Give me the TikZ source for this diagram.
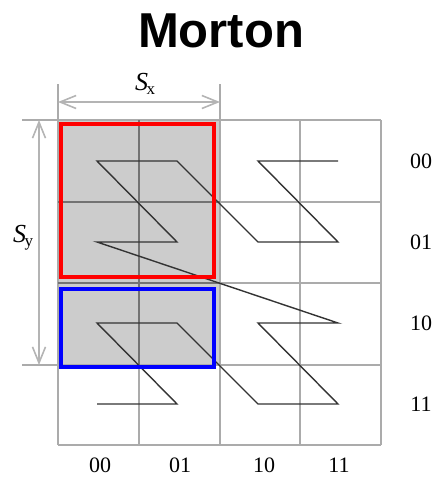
\documentclass[tikz,border=0pt]{standalone}
\usepackage{fontspec}
\setmainfont{Liberation Serif}
\newfontfamily\titlefont{Liberation Sans}
\usetikzlibrary{arrows.meta}
\definecolor{gridc}{HTML}{ABABAB}
\definecolor{dimc}{HTML}{B4B4B4}
\definecolor{shadec}{HTML}{CCCCCC}
\definecolor{curvec}{HTML}{333333}
\definecolor{redbox}{HTML}{FF0000}
\definecolor{bluebox}{HTML}{0000FF}
\begin{document}
\begin{tikzpicture}[x=1pt,y=-1pt,
  gridline/.style={draw=gridc,line width=1.3pt},
  innerline/.style={draw=black!55,line width=1.1pt},
  dimline/.style={draw=dimc,line width=1.6pt,{Straight Barb[length=16pt,width=13pt]}-{Straight Barb[length=16pt,width=13pt]}},
  curve/.style={draw=curvec,line width=1.4pt,line join=miter},
  lab/.style={font=\fontsize{22}{22}\selectfont,inner sep=0pt},
  dimlab/.style={font=\fontsize{26}{26}\selectfont,inner sep=0pt},
  sel/.style={line width=4pt}]
\useasboundingbox (0,0) rectangle (434,477);
% shading
\fill[shadec] (58,120) rectangle (220,365);
% grid
\foreach \x in {58,139,220,300,381} \draw[gridline] (\x,120) -- (\x,445);
\foreach \y in {120,202,283,365,445} \draw[gridline] (58,\y) -- (381,\y);
\draw[innerline] (139,120) -- (139,365);
\draw[innerline] (58,202) -- (220,202);
\draw[innerline] (58,283) -- (220,283);
% extensions
\draw[gridline] (58,120) -- (58,84);
\draw[gridline] (220,120) -- (220,84);
\draw[gridline] (58,120) -- (22,120);
\draw[gridline] (58,365) -- (22,365);
% dimension arrows
\coordinate (sxa) at (58,102);
\coordinate (sxb) at (220,102);
\coordinate (sya) at (39,120);
\coordinate (syb) at (39,365);
\draw[dimline] (sxa) -- (sxb);
\draw[dimline] (sya) -- (syb);
\node[dimlab] (sx) at (145,84) {\textit{S}\kern-1.5pt\raisebox{-0.3ex}{\fontsize{17}{17}\selectfont x}};
\node[dimlab] (sy) at (23,238) {\textit{S}\kern-1.5pt\raisebox{-0.3ex}{\fontsize{17}{17}\selectfont y}};
% Morton curve
\coordinate (p1) at (97,404);
\coordinate (p2) at (177,404);
\coordinate (p3) at (97,323);
\coordinate (p4) at (177,323);
\coordinate (p5) at (258,404);
\coordinate (p6) at (338,404);
\coordinate (p7) at (258,323);
\coordinate (p8) at (338,323);
\coordinate (p9) at (97,242);
\coordinate (p10) at (177,242);
\coordinate (p11) at (97,161);
\coordinate (p12) at (177,161);
\coordinate (p13) at (258,242);
\coordinate (p14) at (338,242);
\coordinate (p15) at (258,161);
\coordinate (p16) at (338,161);
\draw[curve] (p1) -- (p2) -- (p3) -- (p4) -- (p5) -- (p6) -- (p7) -- (p8) -- (p9) -- (p10) -- (p11) -- (p12) -- (p13) -- (p14) -- (p15) -- (p16);
% selection boxes
\draw[sel,draw=redbox] (61,124) rectangle (214,277);
\draw[sel,draw=bluebox] (61,289) rectangle (214,367);
% labels
\node[lab] (r0) at (421,161) {00};
\node[lab] (r1) at (421,242) {01};
\node[lab] (r2) at (421,323) {10};
\node[lab] (r3) at (421,404) {11};
\node[lab] (c0) at (100,465) {00};
\node[lab] (c1) at (180,465) {01};
\node[lab] (c2) at (264,465) {10};
\node[lab] (c3) at (339,465) {11};
\node[font=\titlefont\bfseries\fontsize{49}{49}\selectfont,inner sep=0pt] (title) at (221,31) {Morton};
\end{tikzpicture}
\end{document}
